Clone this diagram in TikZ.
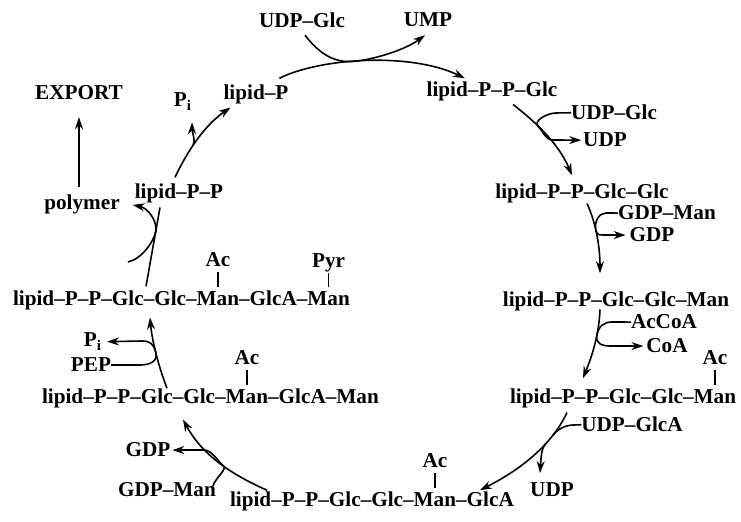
\documentclass[tikz,border=0pt]{standalone}
\usepackage{fontspec}
\setmainfont{Liberation Serif}
\usepackage{tikz}
\usetikzlibrary{arrows.meta,positioning}

\begin{document}
\begin{tikzpicture}[x=0.5pt, y=-0.5pt, node distance=0 cm, outer sep = 0pt, line width=0.8pt, >={Stealth[length=6pt,width=4pt]}]

\tikzstyle{lbl}=[inner sep=0pt, anchor=base, font=\fontsize{10.6}{13}\selectfont\bfseries]
\tikzstyle{chain}=[lbl, anchor=base west]
\tikzstyle{link}=[shorten <=2.5pt, shorten >=2.5pt]

\useasboundingbox (0,0) rectangle (741,522);

% top and left
\node[lbl] (udpGlcT) at (302,28) {UDP--Glc}; \node[lbl] (ump) at (428,27) {UMP};
\node[lbl] (export) at (79,100) {EXPORT}; \node[lbl] (lipP) at (256,100) {lipid--P}; \node[lbl] (piA) at (183,107) {P\textsubscript{i}};
\node[lbl] (lipPP) at (179,199) {lipid--P--P}; \node[lbl] (poly) at (82,210) {polymer};

% right side
\node[lbl] (lipPPG) at (492,97) {lipid--P--P--Glc};
\node[lbl] (udpGlcR) at (614,120) {UDP--Glc}; \node[lbl] (udpR) at (605,147) {UDP};
\node[lbl] (lipPPGG) at (582,199) {lipid--P--P--Glc--Glc};
\node[lbl] (gdpManR) at (667,220) {GDP--Man}; \node[lbl] (gdpR) at (652,242) {GDP};
\node[lbl] (lipTri) at (616,307) {lipid--P--P--Glc--Glc--Man};
\node[lbl] (acCoA) at (664,329) {AcCoA}; \node[lbl] (coA) at (667,353) {CoA};
\node[chain] (triA) at (510,404) {lipid--P--P--Glc--Glc--}; \node[chain] (triB) at (triA.base east) {Man};
\node[lbl, above=12.5pt of triB] (acTri) {Ac};
\node[lbl] (udpGlcA) at (632,432) {UDP--GlcA}; \node[lbl] (udpB) at (552,497) {UDP};

% bottom and left chains
\node[chain] (tetA) at (230,507) {lipid--P--P--Glc--Glc--}; \node[chain] (tetB) at (tetA.base east) {Man}; \node[chain] (tetC) at (tetB.base east) {--GlcA};
\node[lbl, above=12.5pt of tetB] (acTet) {Ac};
\node[lbl] (gdpL) at (148,457) {GDP}; \node[lbl] (gdpManL) at (167,497) {GDP--Man};
\node[chain] (penA) at (42,404) {lipid--P--P--Glc--Glc--}; \node[chain] (penB) at (penA.base east) {Man}; \node[chain] (penC) at (penB.base east) {--GlcA--Man};
\node[lbl, above=12.5pt of penB] (acPen) {Ac};
\node[lbl] (piB) at (93,347) {P\textsubscript{i}}; \node[lbl] (pep) at (91,372) {PEP};
\node[chain] (pyrA) at (13,306) {lipid--P--P--Glc--Glc--}; \node[chain] (pyrB) at (pyrA.base east) {Man}; \node[chain] (pyrC) at (pyrB.base east) {--GlcA--}; \node[chain] (pyrD) at (pyrC.base east) {Man};
\node[lbl, above=12.5pt of pyrB] (acPyr) {Ac}; \node[lbl, text depth=0pt, above=12.5pt of pyrD] (pyr) {Pyr};

\draw[link] (triB) -- (acTri); \draw[link] (tetB) -- (acTet); \draw[link] (penB) -- (acPen);
\draw[link] (pyrB) -- (acPyr); \draw[link, shorten >=3pt] (pyrD) -- (pyr);

% cycle
\draw[->] ([shift={(-9,-7)}]lipP.north east) .. controls (320,58) and (410,52) .. ([shift={(-27,-4)}]lipPPG.north) coordinate[pos=0.43] (jTop);
\draw[->] ([shift={(3,7)}]udpGlcT.south) .. controls (318,52) and ([shift={(-20,1.4)}]jTop) .. (jTop) .. controls ([shift={(20,-1.4)}]jTop) and (405,50) .. ([shift={(-3,8)}]ump.south);

\draw[->] ([shift={(21,3)}]lipPPG.south) .. controls (533,120) and (558,142) .. ([shift={(-10,-9)}]lipPPGG.north) coordinate[pos=0.4] (jGlc);
\draw[->] (udpGlcR.west) -- (556,113) .. controls (548,113) and ([shift={(-6,-6)}]jGlc) .. (jGlc) .. controls ([shift={(5,5)}]jGlc) and (545,140) .. (553,140) -- ([shift={(-2,0)}]udpR.west);

\draw[->] ([shift={(5,0)}]lipPPGG.south) .. controls (597,225) and (600,250) .. ([shift={(-16,-19)}]lipTri.north) coordinate[pos=0.4] (jMan);
\draw[->] (gdpManR.west) -- (606,213) .. controls (599,213) and ([shift={(-2,-9)}]jMan) .. (jMan) .. controls ([shift={(1,5)}]jMan) and (600,235) .. (607,235) -- ([shift={(-4,0)}]gdpR.west);

\draw[->] ([shift={(-16,-2)}]lipTri.south) .. controls (599,335) and (592,356) .. ([shift={(73,-11)}]triA.north west) coordinate[pos=0.35] (jAc);
\draw[->] (acCoA.west) -- (612,322) .. controls (604,322) and ([shift={(1.8,-8.8)}]jAc) .. (jAc) .. controls ([shift={(-1.8,8.8)}]jAc) and (602,346) .. (610,346) -- ([shift={(-3,0)}]coA.west);

\draw[->] ([shift={(57,4)}]triA.south west) .. controls (552,445) and (520,470) .. ([shift={(-34,-2)}]tetC.north east) coordinate[pos=0.25] (jGlcA) coordinate[pos=0.35] (jUdp);
\draw (udpGlcA.west) -- (574,425) .. controls (565,425) and ([shift={(5,-6.2)}]jGlcA) .. (jGlcA);
\draw[->] (jUdp) .. controls ([shift={(-4,4.4)}]jUdp) and (541,458) .. ([shift={(-12,-10)}]udpB.north);

\draw[->] ([shift={(37,-2)}]tetA.north west) .. controls (240,478) and (205,460) .. ([shift={(141,11)}]penA.south west) coordinate[pos=0.5] (jMan2);
\draw[->] ([shift={(-3,3)}]gdpManL.north east) .. controls (216,477) and ([shift={(4.8,3.5)}]jMan2) .. (jMan2) .. controls ([shift={(-4.8,-3.5)}]jMan2) and (212,450) .. (204,450) -- ([shift={(2,0)}]gdpL.east);

\draw[->] ([shift={(125,-1)}]penA.north west) .. controls (158,365) and (152,340) .. ([shift={(137,7)}]pyrA.south west) coordinate[pos=0.5] (jPep);
\draw[->] (pep.east) -- (140,365) .. controls (150,365) and ([shift={(2.1,8.7)}]jPep) .. (jPep) .. controls ([shift={(-2.1,-8.7)}]jPep) and (150,341) .. (142,341) -- ([shift={(5,0)}]piB.east);

\draw ([shift={(133,-5)}]pyrA.north west) -- ([shift={(-19,4)}]lipPP.south) coordinate[pos=0.7] (jPoly);
\coordinate (polyIn) at (128,262);
\draw[->] (polyIn) .. controls (142,259) and ([shift={(-1.75,9.85)}]jPoly) .. (jPoly) .. controls ([shift={(1.75,-9.85)}]jPoly) and (148,208) .. ([shift={(13,0)}]poly.east);
\draw[->] ([shift={(-3,-8)}]poly.north) -- ([shift={(0,17)}]export.south);

\draw[->] ([shift={(-4,-7)}]lipPP.north) .. controls (188,150) and (205,125) .. ([shift={(7,3)}]lipP.south west) coordinate[pos=0.4] (jPi);
\draw[->] (jPi) .. controls ([shift={(3.4,-4.9)}]jPi) and (192,132) .. ([shift={(0,12)}]piA.south east);

\end{tikzpicture}
\end{document}
